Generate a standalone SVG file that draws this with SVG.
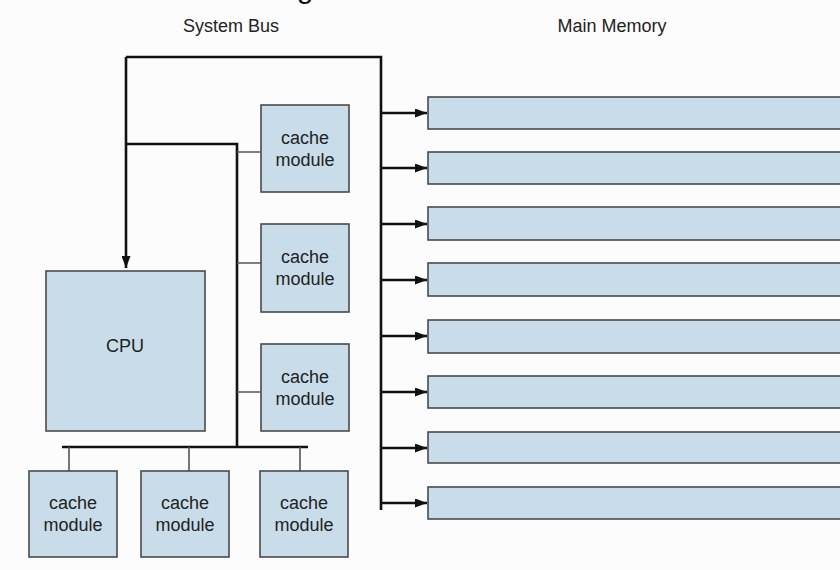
<svg xmlns="http://www.w3.org/2000/svg" width="840" height="570" viewBox="0 0 840 570">
<style>
.box{fill:#c9dcea;stroke:#4a4a4a;stroke-width:1.6}
.lbl{font-family:"Liberation Sans",Arial,sans-serif;font-size:18px;fill:#222;text-anchor:middle}
.bus{fill:none;stroke:#111;stroke-width:2.6}
.tap{fill:none;stroke:#555;stroke-width:1.6}
</style>
<defs>
<marker id="ah" markerWidth="12" markerHeight="9" refX="12" refY="4.5" orient="auto" markerUnits="userSpaceOnUse">
<path d="M0,0 L12,4.5 L0,9 Z" fill="#111"/>
</marker>
</defs>
<rect width="840" height="570" fill="#fcfcfc"/>
<text class="lbl" x="305" y="-2" style="font-size:30px;fill:#111">g</text>
<text class="lbl" x="231" y="32">System Bus</text>
<text class="lbl" x="612" y="32">Main Memory</text>

<g id="connectors">
<path class="bus" d="M126,57 H381 V510"/>
<path class="bus" d="M126,57 V268" marker-end="url(#ah)"/>
<path class="bus" d="M126,144 H237 V447"/>
<path class="bus" d="M62,447 H308"/>
<path class="tap" d="M237,152 H261 M237,263 H261 M237,392 H261"/>
<path class="tap" d="M69,447 V471 M189,447 V471 M300,447 V471"/>
<path class="bus" d="M381,113 H427" marker-end="url(#ah)"/>
<path class="bus" d="M381,168 H427" marker-end="url(#ah)"/>
<path class="bus" d="M381,224 H427" marker-end="url(#ah)"/>
<path class="bus" d="M381,280 H427" marker-end="url(#ah)"/>
<path class="bus" d="M381,336 H427" marker-end="url(#ah)"/>
<path class="bus" d="M381,392 H427" marker-end="url(#ah)"/>
<path class="bus" d="M381,448 H427" marker-end="url(#ah)"/>
<path class="bus" d="M381,503 H427" marker-end="url(#ah)"/>
</g>

<g id="cpu"><rect class="box" x="46" y="271" width="159" height="160"/><text class="lbl" x="125" y="352">CPU</text></g>

<g id="cache1"><rect class="box" x="261" y="105" width="88" height="87"/><text class="lbl" x="305" y="144">cache</text><text class="lbl" x="305" y="166">module</text></g>
<g id="cache2"><rect class="box" x="261" y="224" width="88" height="88"/><text class="lbl" x="305" y="263">cache</text><text class="lbl" x="305" y="285">module</text></g>
<g id="cache3"><rect class="box" x="261" y="344" width="88" height="87"/><text class="lbl" x="305" y="383">cache</text><text class="lbl" x="305" y="405">module</text></g>
<g id="cache4"><rect class="box" x="29" y="471" width="88" height="86"/><text class="lbl" x="73" y="509">cache</text><text class="lbl" x="73" y="531">module</text></g>
<g id="cache5"><rect class="box" x="141" y="471" width="88" height="86"/><text class="lbl" x="185" y="509">cache</text><text class="lbl" x="185" y="531">module</text></g>
<g id="cache6"><rect class="box" x="260" y="471" width="88" height="86"/><text class="lbl" x="304" y="509">cache</text><text class="lbl" x="304" y="531">module</text></g>

<g id="mem1"><rect class="box" x="428" y="97" width="430" height="32"/></g>
<g id="mem2"><rect class="box" x="428" y="152" width="430" height="32"/></g>
<g id="mem3"><rect class="box" x="428" y="207" width="430" height="33"/></g>
<g id="mem4"><rect class="box" x="428" y="263" width="430" height="33"/></g>
<g id="mem5"><rect class="box" x="428" y="320" width="430" height="33"/></g>
<g id="mem6"><rect class="box" x="428" y="376" width="430" height="32"/></g>
<g id="mem7"><rect class="box" x="428" y="432" width="430" height="31"/></g>
<g id="mem8"><rect class="box" x="428" y="487" width="430" height="32"/></g>
</svg>
